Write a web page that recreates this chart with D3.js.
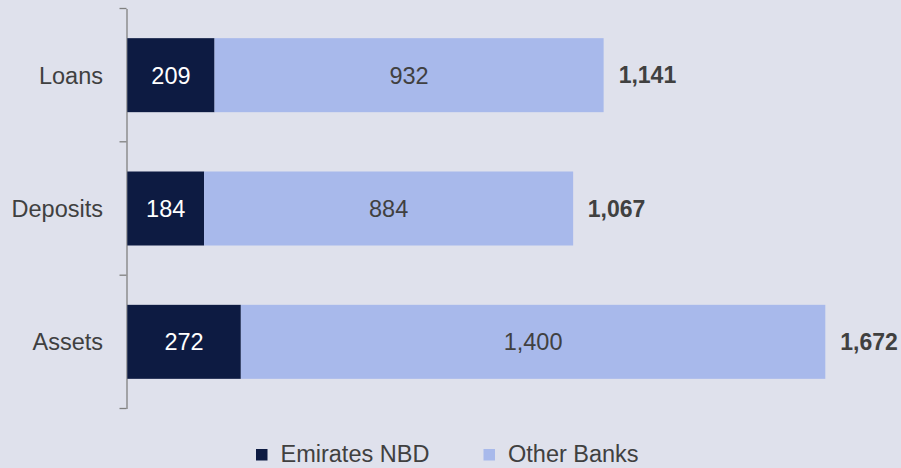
<!DOCTYPE html>
<html><head><meta charset="utf-8">
<script src="https://cdn.jsdelivr.net/npm/d3@7/dist/d3.min.js"></script>
<style>body{margin:0;background:#dfe1ec;}svg{display:block;}</style>
</head><body>
<script>
const categories = ["Loans", "Deposits", "Assets"];
const emiratesNBD = [209, 184, 272];
const otherBanks = [932, 884, 1400];
const totals = [1141, 1067, 1672];
const seriesNames = ["Emirates NBD", "Other Banks"];
const colors = ["#0d1b42", "#a8b9eb"];

const W = 901, H = 468;
const svg = d3.select("body").append("svg").attr("width", W).attr("height", H)
  .style("font-family", "'Liberation Sans', Arial, sans-serif");
svg.append("rect").attr("width", W).attr("height", H).attr("fill", "#dfe1ec");

const x0 = 127.3;
const x = d3.scaleLinear().domain([0, 1672]).range([x0, 825.3]);
const y = d3.scaleBand().domain(categories).range([8.5, 408.5]).paddingInner(0.445).paddingOuter(0.2225);

// axis
const axisG = svg.append("g").attr("transform", `translate(${126.5},0)`);
const yAxis = d3.axisLeft(y).tickSize(0).tickFormat("");
axisG.call(yAxis);
axisG.select(".domain").attr("stroke", "#808080").attr("stroke-width", 1.3);
axisG.selectAll(".tick").remove();
const bounds = [8.5, 141.8, 275.2, 408.5];
axisG.selectAll("line.bt").data(bounds).enter().append("line")
  .attr("x1", -7).attr("x2", 0).attr("y1", d => d).attr("y2", d => d)
  .attr("stroke", "#808080").attr("stroke-width", 1.3);

const rows = categories.map((c, i) => ({c, a: emiratesNBD[i], b: otherBanks[i], t: totals[i]}));

// category labels
svg.selectAll("text.cat").data(rows).enter().append("text")
  .attr("x", 103).attr("y", d => y(d.c) + y.bandwidth() / 2).attr("dy", "0.36em")
  .attr("text-anchor", "end").attr("font-size", 23.5).attr("fill", "#404040").text(d => d.c);

// bars
svg.selectAll("rect.a").data(rows).enter().append("rect")
  .attr("x", x(0)).attr("y", d => y(d.c)).attr("width", d => x(d.a) - x(0)).attr("height", y.bandwidth())
  .attr("fill", colors[0]);
svg.selectAll("rect.b").data(rows).enter().append("rect")
  .attr("x", d => x(d.a)).attr("y", d => y(d.c)).attr("width", d => x(d.a + d.b) - x(d.a)).attr("height", y.bandwidth())
  .attr("fill", colors[1]);

const fmt = d3.format(",");
svg.selectAll("text.va").data(rows).enter().append("text")
  .attr("x", d => (x(0) + x(d.a)) / 2).attr("y", d => y(d.c) + y.bandwidth() / 2).attr("dy", "0.36em")
  .attr("text-anchor", "middle").attr("font-size", 23.5).attr("fill", "#ffffff").text(d => fmt(d.a));
svg.selectAll("text.vb").data(rows).enter().append("text")
  .attr("x", d => (x(d.a) + x(d.a + d.b)) / 2).attr("y", d => y(d.c) + y.bandwidth() / 2).attr("dy", "0.36em")
  .attr("text-anchor", "middle").attr("font-size", 23.5).attr("fill", "#404040").text(d => fmt(d.b));
svg.selectAll("text.vt").data(rows).enter().append("text")
  .attr("x", d => x(d.t) + 15).attr("y", d => y(d.c) + y.bandwidth() / 2).attr("dy", "0.36em")
  .attr("text-anchor", "start").attr("font-size", 23).attr("font-weight", "bold").attr("fill", "#404040").text(d => fmt(d.t));

// legend
const legX = [256, 483.5];
seriesNames.forEach((n, i) => {
  svg.append("rect").attr("x", legX[i]).attr("y", 449).attr("width", 11.5).attr("height", 11.5).attr("fill", colors[i]);
  svg.append("text").attr("x", legX[i] + 24.5).attr("y", 462).attr("font-size", 23.5).attr("fill", "#404040").text(n);
});
</script>
</body></html>
